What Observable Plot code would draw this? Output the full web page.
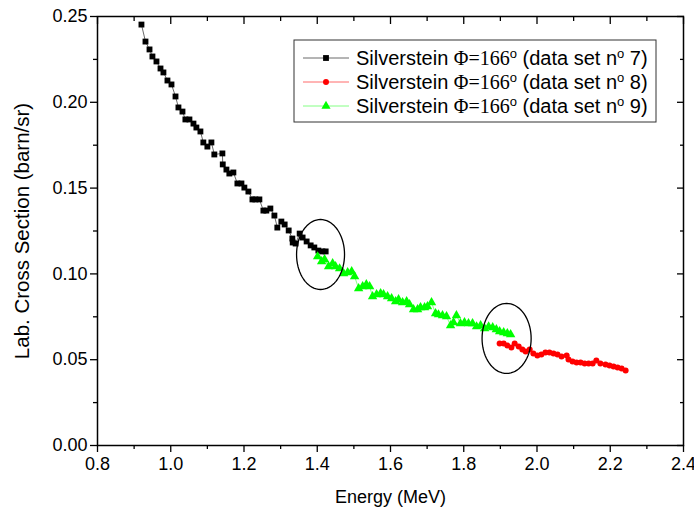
<!DOCTYPE html>
<html><head><meta charset="utf-8">
<script src="https://cdn.jsdelivr.net/npm/d3@7"></script>
<script src="https://cdn.jsdelivr.net/npm/@observablehq/plot@0.6"></script>
<style>body{margin:0;background:#fff}</style>
</head><body><div id="chart"></div>
<script>
// Data set nº 7 (black squares)
const E7 = [0.920,0.931,0.942,0.950,0.961,0.972,0.980,0.991,1.002,1.013,1.021,1.032,1.040,1.051,1.062,1.070,1.081,1.089,1.100,1.111,1.119,1.141,1.142,1.152,1.160,1.171,1.182,1.193,1.201,1.212,1.223,1.231,1.242,1.253,1.261,1.272,1.283,1.291,1.302,1.311,1.322,1.332,1.333,1.341,1.352,1.360,1.371,1.382,1.392,1.403,1.414,1.423];
const S7 = [0.2453,0.2354,0.2308,0.2267,0.2238,0.2197,0.2174,0.2127,0.2104,0.2034,0.1970,0.1946,0.1900,0.1900,0.1876,0.1853,0.1830,0.1766,0.1742,0.1766,0.1696,0.1702,0.1638,0.1608,0.1585,0.1591,0.1527,0.1527,0.1503,0.1480,0.1434,0.1434,0.1434,0.1369,0.1369,0.1381,0.1340,0.1270,0.1305,0.1288,0.1253,0.1206,0.1183,0.1177,0.1235,0.1212,0.1189,0.1166,0.1154,0.1136,0.1131,0.1131];
// Data set nº 8 (red circles)
const E8 = [1.898,1.909,1.919,1.930,1.939,1.950,1.960,1.969,1.980,1.990,2.001,2.012,2.023,2.034,2.045,2.056,2.067,2.081,2.086,2.097,2.108,2.119,2.130,2.141,2.152,2.162,2.173,2.187,2.198,2.209,2.220,2.231,2.242];
const S8 = [0.0594,0.0594,0.0583,0.0571,0.0594,0.0577,0.0559,0.0548,0.0559,0.0536,0.0524,0.0530,0.0542,0.0542,0.0536,0.0530,0.0519,0.0524,0.0501,0.0490,0.0484,0.0484,0.0478,0.0478,0.0478,0.0495,0.0478,0.0472,0.0466,0.0460,0.0455,0.0449,0.0437];
// Data set nº 9 (green triangles)
const E9 = [1.401,1.412,1.420,1.431,1.442,1.450,1.461,1.472,1.483,1.494,1.502,1.513,1.524,1.534,1.543,1.551,1.562,1.573,1.581,1.592,1.603,1.614,1.622,1.633,1.644,1.652,1.663,1.674,1.682,1.693,1.701,1.712,1.723,1.731,1.742,1.753,1.764,1.772,1.780,1.791,1.802,1.813,1.824,1.835,1.846,1.857,1.868,1.879,1.889,1.898,1.909,1.919,1.928];
const S9 = [0.1101,0.1072,0.1084,0.1043,0.1061,0.1043,0.1031,0.1002,0.1008,0.1014,0.0985,0.0915,0.0927,0.0938,0.0927,0.0868,0.0880,0.0886,0.0880,0.0868,0.0857,0.0839,0.0851,0.0833,0.0839,0.0822,0.0793,0.0793,0.0804,0.0804,0.0810,0.0833,0.0769,0.0763,0.0758,0.0752,0.0699,0.0717,0.0758,0.0711,0.0717,0.0711,0.0711,0.0693,0.0699,0.0682,0.0693,0.0688,0.0676,0.0664,0.0659,0.0653,0.0647];
// Highlight ellipses (centre and half-axes in data units)
const ellE = [1.409, 1.917];
const ellS = [0.1113, 0.0624];
const ellRE = [0.0655, 0.067];
const ellRS = [0.0204, 0.0204];

const xMajor = [0.8,1.0,1.2,1.4,1.6,1.8,2.0,2.2,2.4];
const xMinor = [0.9,1.1,1.3,1.5,1.7,1.9,2.1,2.3];
const yMajor = [0,0.05,0.10,0.15,0.20,0.25];
const yMinor = [0.025,0.075,0.125,0.175,0.225];
const legendLabels = ["7","8","9"];

const zip = (E, S) => E.map((e, i) => ({E: e, S: S[i]}));
const set7 = zip(E7, S7), set8 = zip(E8, S8), set9 = zip(E9, S9);
const ellPts = [];
ellE.forEach((c, i) => {
  for (let k = 0; k <= 72; k++) {
    const t = k / 72 * 2 * Math.PI;
    ellPts.push({id: i, x: c + ellRE[i] * Math.cos(t), y: ellS[i] + ellRS[i] * Math.sin(t)});
  }
});

const font = "'Liberation Sans', Arial, sans-serif";
const chart = Plot.plot({
  width: 694, height: 515,
  marginLeft: 97, marginRight: 11, marginTop: 16, marginBottom: 70,
  style: {fontFamily: font, fontSize: "18px", background: "white", color: "black", overflow: "visible"},
  x: {domain: [0.8, 2.4]},
  y: {domain: [0, 0.25]},
  marks: [
    Plot.axisX({anchor: "bottom", ticks: xMajor, tickSize: 7, tickPadding: 5, tickFormat: d3.format(".1f"), label: null, fontSize: 18, strokeWidth: 1.3}),
    Plot.axisX({anchor: "bottom", ticks: xMinor, tickSize: 4, tickFormat: () => "", label: null, strokeWidth: 1.3}),
    Plot.axisX({anchor: "top", ticks: xMajor, tickSize: -7, tickFormat: () => "", label: null, strokeWidth: 1.3}),
    Plot.axisX({anchor: "top", ticks: xMinor, tickSize: -4, tickFormat: () => "", label: null, strokeWidth: 1.3}),
    Plot.axisY({anchor: "left", ticks: yMajor, tickSize: 7, tickPadding: 3, tickFormat: d3.format(".2f"), label: null, fontSize: 18, strokeWidth: 1.3}),
    Plot.axisY({anchor: "left", ticks: yMinor, tickSize: 4, tickFormat: () => "", label: null, strokeWidth: 1.3}),
    Plot.axisY({anchor: "right", ticks: yMajor, tickSize: -7, tickFormat: () => "", label: null, strokeWidth: 1.3}),
    Plot.axisY({anchor: "right", ticks: yMinor, tickSize: -4, tickFormat: () => "", label: null, strokeWidth: 1.3}),
    Plot.text(["Energy (MeV)"], {frameAnchor: "bottom", dy: 52, fontSize: 18, textAnchor: "middle", lineAnchor: "middle"}),
    Plot.text(["Lab. Cross Section (barn/sr)"], {frameAnchor: "left", dx: -75, rotate: -90, fontSize: 20.5, textAnchor: "middle", lineAnchor: "middle"}),
    Plot.line(set7, {x: "E", y: "S", stroke: "#444", strokeWidth: 0.8}),
    Plot.dot(set7, {x: "E", y: "S", symbol: "square", r: 3.3, fill: "black", stroke: "none"}),
    Plot.line(set9, {x: "E", y: "S", stroke: "#66ff66", strokeWidth: 0.8}),
    Plot.dot(set9, {x: "E", y: "S", symbol: "triangle", r: 3.5, fill: "#00ff00", stroke: "none"}),
    Plot.line(set8, {x: "E", y: "S", stroke: "#ff4444", strokeWidth: 0.8}),
    Plot.dot(set8, {x: "E", y: "S", symbol: "circle", r: 3, fill: "#ff0000", stroke: "none"}),
    Plot.line(ellPts, {x: "x", y: "y", z: "id", stroke: "black", strokeWidth: 1.3}),
    Plot.frame({stroke: "black", strokeWidth: 1.5})
  ]
});

// Legend box inside the plot
const svg = d3.select(chart);
const lg = svg.append("g");
lg.append("rect").attr("x", 294).attr("y", 40).attr("width", 362).attr("height", 82)
  .attr("fill", "white").attr("stroke", "#333").attr("stroke-width", 1);
const rowY = [58, 82, 106];
const lineCols = ["#444", "#ff4444", "#66ff66"];
const symCols = ["black", "#ff0000", "#00ff00"];
const syms = [d3.symbolSquare, d3.symbolCircle, d3.symbolTriangle];
const symSizes = [34, 28, 36];
rowY.forEach((y, i) => {
  lg.append("line").attr("x1", 303).attr("x2", 349).attr("y1", y).attr("y2", y)
    .attr("stroke", lineCols[i]).attr("stroke-width", 0.8);
  lg.append("path").attr("d", d3.symbol(syms[i], symSizes[i])()).attr("transform", `translate(326,${y})`)
    .attr("fill", symCols[i]);
  const t = lg.append("text").attr("x", 356).attr("y", y + 7)
    .attr("text-anchor", "start")
    .attr("font-family", font).attr("font-size", 20).attr("fill", "black");
  t.append("tspan").text("Silverstein ");
  t.append("tspan").attr("font-family", "'Liberation Serif', 'Times New Roman', serif").text("\u03A6=166");
  t.append("tspan").attr("font-size", 13).attr("dy", -7).text("o");
  t.append("tspan").attr("dy", 7).text(" (data set n");
  t.append("tspan").attr("font-size", 13).attr("dy", -7).text("o");
  t.append("tspan").attr("dy", 7).text(" " + legendLabels[i] + ")");
});

document.getElementById("chart").appendChild(chart);
</script>
</body></html>
